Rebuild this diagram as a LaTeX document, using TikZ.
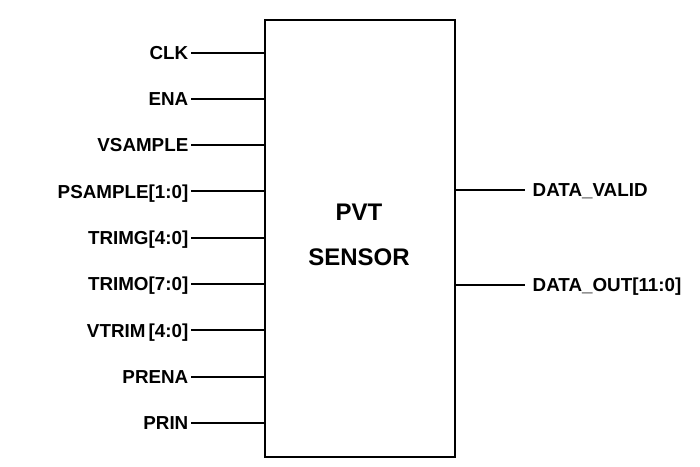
\documentclass[tikz,border=0pt]{standalone}
\usepackage{fontspec}
\setmainfont{Liberation Sans}
\usepackage{tikz}
\usetikzlibrary{positioning}

\tikzset{
  pinlabel/.style={font=\fontsize{18.8}{21}\selectfont\bfseries, inner sep=2.5pt,
    text height=13.5pt, text depth=0pt},
  pinwire/.style={line width=2pt},
  block/.style={draw, line width=2.2pt, minimum width=190pt, minimum height=437pt,
    inner sep=0pt},
  blocktitle/.style={align=center, font=\fontsize{24}{45}\selectfont\bfseries}
}

\begin{document}
\begin{tikzpicture}[x=1pt, y=-1pt]
  \useasboundingbox (0,0) rectangle (700,466);

  \node[block] (sensor) at (360,238.5) {};
  \node[blocktitle] (title) at (359,234.5) {PVT\\SENSOR};

  % input pins
  \foreach \name/\txt [count=\i from 0] in
    {clk/CLK, ena/ENA, vsample/VSAMPLE, psample/{PSAMPLE[1:0]}, trimg/{TRIMG[4:0]},
     trimo/{TRIMO[7:0]}, vtrim/{VTRIM\,[4:0]}, prena/PRENA, prin/PRIN}
  {
    \node[pinlabel, anchor=east] (\name) at (191,52.5+46.3*\i) {\txt};
    \draw[pinwire] (\name.east) -- (\name.east -| sensor.west);
  }

  % output pins
  \node[pinlabel, anchor=west] (valid) at (530,189.5) {DATA\_VALID};
  \node[pinlabel, anchor=west] (dout) at (530,285) {DATA\_OUT[11:0]};
  \draw[pinwire] (valid.west -| sensor.east) -- ([xshift=-5pt]valid.west);
  \draw[pinwire] (dout.west -| sensor.east) -- ([xshift=-5pt]dout.west);
\end{tikzpicture}
\end{document}
